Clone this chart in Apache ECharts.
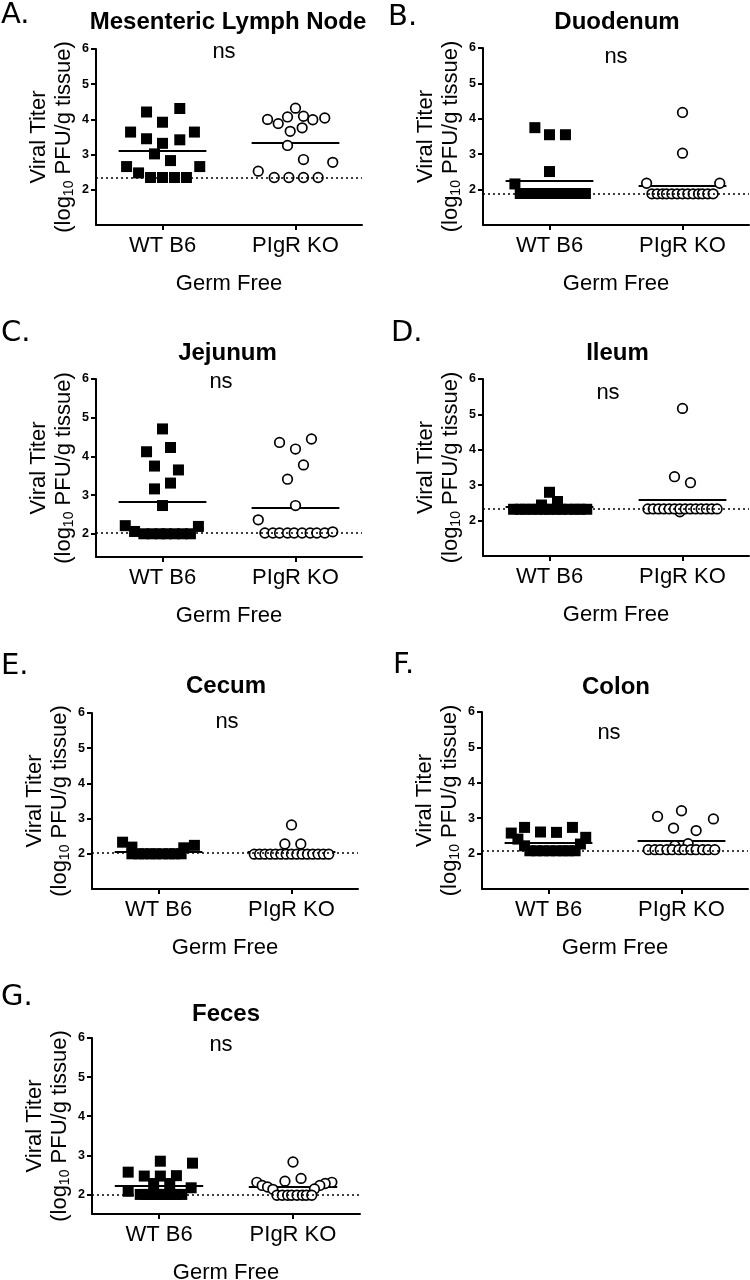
<!DOCTYPE html>
<html>
<head>
<meta charset="utf-8">
<script src="https://cdn.jsdelivr.net/npm/echarts@6/dist/echarts.min.js"></script>
<style>
html,body{margin:0;padding:0;background:#fff;}
#chart{width:750px;height:1280px;}
</style>
</head>
<body>
<div id="chart"></div>
<script>
// ---------------- data ----------------
const groups = ['WT B6', 'PIgR KO'];
const panelTitles = ['Mesenteric Lymph Node', 'Duodenum', 'Jejunum', 'Ileum', 'Cecum', 'Colon', 'Feces'];
const panelLetters = ['A.', 'B.', 'C.', 'D.', 'E.', 'F.', 'G.'];
const significance = ['ns', 'ns', 'ns', 'ns', 'ns', 'ns', 'ns'];
const yTicks = [2, 3, 4, 5, 6];
const yMins = [1, 1, 1.4, 1, 1, 1, 1.5];
const yMax = 6;
const detectionLimits = [2.35, 1.89, 2.02, 2.33, 2.02, 2.09, 2.0];
const meansWT = [3.11, 2.26, 2.82, 2.38, 2.07, 2.32, 2.21];
const meansKO = [3.33, 2.11, 2.66, 2.59, 2.06, 2.37, 2.19];

// points: [offset within group (in category widths), log10 PFU/g]
const mlnWT = [[-0.12,4.21],[0.13,4.31],[-0.24,3.64],[0,3.92],[0.24,3.64],[-0.12,3.45],[0,3.32],[0.13,3.42],[-0.06,3.02],[0.06,2.83],[-0.27,2.66],[0.28,2.66],[-0.18,2.48],[-0.09,2.35],[0,2.35],[0.09,2.35],[0.18,2.35]];
const mlnKO = [[0,4.32],[-0.06,4.07],[0.06,4.09],[-0.21,4.0],[-0.13,3.88],[0.13,3.99],[0.22,4.04],[0.05,3.76],[-0.04,3.66],[-0.06,3.26],[0.06,2.86],[0.28,2.78],[-0.28,2.53],[-0.16,2.35],[-0.05,2.35],[0.06,2.35],[0.17,2.35]];

const duoWT = [[-0.11,3.75],[0,3.55],[0.12,3.55],[0,2.51],[-0.26,2.16],[-0.22,1.89],[-0.17,1.89],[-0.12,1.89],[-0.07,1.89],[-0.02,1.89],[0.03,1.89],[0.08,1.89],[0.13,1.89],[0.17,1.89],[0.22,1.89],[0.27,1.89]];
const duoKO = [[0,4.18],[0,3.03],[-0.27,2.18],[0.28,2.18],[-0.23,1.88],[-0.19,1.88],[-0.15,1.88],[-0.12,1.88],[-0.08,1.88],[-0.04,1.88],[0,1.88],[0.04,1.88],[0.08,1.88],[0.12,1.88],[0.15,1.88],[0.19,1.88],[0.23,1.88]];

const jejWT = [[0,4.71],[-0.12,4.12],[0.06,4.23],[-0.06,3.75],[0.12,3.65],[0.06,3.31],[-0.06,3.16],[0,2.73],[-0.28,2.21],[0.27,2.19],[-0.21,2.06],[-0.14,2.0],[-0.08,2.0],[-0.02,2.0],[0.03,2.0],[0.09,2.0],[0.15,2.0],[0.21,2.0]];
const jejKO = [[-0.12,4.36],[0,4.19],[0.12,4.45],[0.06,3.78],[-0.06,3.41],[0,2.73],[-0.28,2.36],[-0.23,2.02],[-0.17,2.02],[-0.12,2.02],[-0.06,2.02],[-0.01,2.02],[0.05,2.02],[0.11,2.02],[0.16,2.02],[0.22,2.02],[0.28,2.05]];

const ileWT = [[-0.27,2.32],[-0.22,2.32],[-0.18,2.32],[-0.13,2.32],[-0.09,2.32],[-0.04,2.32],[0,2.32],[0.05,2.32],[0.09,2.32],[0.14,2.32],[0.19,2.32],[0.23,2.32],[0.28,2.32],[0,2.80],[0.06,2.54],[-0.06,2.44]];
const ileKO = [[0,5.17],[-0.06,3.24],[0.06,3.07],[-0.02,2.25],[-0.26,2.33],[-0.22,2.33],[-0.18,2.33],[-0.14,2.33],[-0.1,2.33],[-0.06,2.33],[-0.02,2.33],[0.02,2.33],[0.06,2.33],[0.1,2.33],[0.14,2.33],[0.18,2.33],[0.22,2.33],[0.26,2.33]];

const cecWT = [[-0.27,2.33],[-0.2,2.19],[0.19,2.17],[0.27,2.24],[-0.2,2.0],[-0.15,2.0],[-0.11,2.0],[-0.06,2.0],[-0.02,2.0],[0.03,2.0],[0.08,2.0],[0.12,2.0],[0.17,2.0]];
const cecKO = [[0,2.82],[-0.05,2.28],[0.07,2.28],[-0.28,1.99],[-0.24,1.99],[-0.2,1.99],[-0.16,1.99],[-0.12,1.99],[-0.08,1.99],[-0.04,1.99],[0,1.99],[0.04,1.99],[0.08,1.99],[0.12,1.99],[0.16,1.99],[0.2,1.99],[0.24,1.99],[0.28,1.99]];

const colWT = [[-0.28,2.58],[-0.18,2.74],[-0.06,2.61],[0.06,2.60],[0.18,2.74],[0.28,2.46],[-0.23,2.41],[-0.18,2.22],[0.24,2.27],[-0.14,2.08],[-0.09,2.08],[-0.04,2.08],[0.01,2.08],[0.06,2.08],[0.11,2.08],[0.15,2.08],[0.2,2.08]];
const colKO = [[-0.18,3.05],[0,3.21],[0.24,2.98],[-0.06,2.72],[0.11,2.65],[-0.05,2.22],[0.05,2.28],[-0.25,2.11],[-0.2,2.11],[-0.16,2.11],[-0.11,2.11],[-0.07,2.11],[-0.02,2.11],[0.02,2.11],[0.07,2.11],[0.11,2.11],[0.16,2.11],[0.2,2.11],[0.25,2.11]];

const fecWT = [[-0.23,2.57],[-0.11,2.47],[0.01,2.85],[0.01,2.47],[0.13,2.48],[0.25,2.80],[-0.04,2.28],[0.08,2.28],[0.24,2.17],[-0.23,2.08],[-0.14,2.0],[-0.1,2.0],[-0.06,2.0],[-0.02,2.0],[0.01,2.0],[0.05,2.0],[0.09,2.0],[0.13,2.0],[0.17,2.0]];
const fecKO = [[0,2.83],[-0.06,2.34],[0.06,2.41],[-0.27,2.31],[-0.23,2.23],[-0.19,2.19],[-0.15,2.13],[0.29,2.31],[0.24,2.28],[0.2,2.23],[0.16,2.14],[-0.12,1.98],[-0.08,1.98],[-0.04,1.98],[-0.01,1.98],[0.03,1.98],[0.07,1.98],[0.1,1.98],[0.14,1.98]];

const wtSets = [mlnWT, duoWT, jejWT, ileWT, cecWT, colWT, fecWT];
const koSets = [mlnKO, duoKO, jejKO, ileKO, cecKO, colKO, fecKO];

// ---------------- layout / style ----------------
const FONT = 'Liberation Sans, Arial, Helvetica, sans-serif';
const layout = [
  {grid:{left:96, top:49, width:266, height:176},  letter:[1,15],   title:[228,22.5],  ns:[224,52]},
  {grid:{left:483,top:48, width:266, height:177},  letter:[388,17], title:[617,22.5],  ns:[616,57]},
  {grid:{left:96, top:379,width:266, height:178},  letter:[1,333],  title:[227.5,353], ns:[221,382]},
  {grid:{left:483,top:379,width:266, height:177},  letter:[391,333],title:[617.5,353], ns:[608,392.5]},
  {grid:{left:92, top:713,width:266, height:176},  letter:[1,666],  title:[226,686.5], ns:[227,722]},
  {grid:{left:482,top:712,width:266, height:177},  letter:[393,665],title:[616,687],   ns:[609,733]},
  {grid:{left:92, top:1038,width:268,height:176},  letter:[1,997],  title:[226,1014],  ns:[221,1045]}
];
const meanHalfWidth = 0.33;

const grids = [], xAxes = [], yAxes = [], series = [], graphics = [];
layout.forEach((L, i) => {
  grids.push(Object.assign({containLabel:false, outerBoundsMode:'none'}, L.grid));
  xAxes.push({
    gridIndex:i, type:'value', min:-0.5, max:1.5,
    axisLine:{show:true, onZero:false, lineStyle:{color:'#000', width:2}},
    axisTick:{show:true, customValues:[0,1], length:5, inside:false, lineStyle:{color:'#000', width:2}},
    axisLabel:{show:true, customValues:[0,1], formatter:v => groups[Math.round(v)], color:'#000', fontSize:22, fontFamily:FONT, margin:10},
    splitLine:{show:false},
    name:'Germ Free', nameLocation:'middle', nameGap:48,
    nameTextStyle:{color:'#000', fontSize:22, fontFamily:FONT}
  });
  yAxes.push({
    gridIndex:i, type:'value', min:yMins[i], max:yMax,
    axisLine:{show:true, onZero:false, lineStyle:{color:'#000', width:2}},
    axisTick:{show:true, customValues:yTicks, length:5, inside:false, lineStyle:{color:'#000', width:2}},
    axisLabel:{show:true, customValues:yTicks, color:'#000', fontSize:12.5, fontWeight:'bold', fontFamily:FONT, margin:7},
    splitLine:{show:false},
    name:'{a|Viral Titer}\n{a|(log}{s|10}{a| PFU/g tissue)}',
    nameLocation:'middle', nameRotate:90, nameGap:20,
    nameTextStyle:{color:'#000', fontSize:22, fontFamily:FONT, lineHeight:25,
      rich:{
        a:{fontSize:22, lineHeight:25, fontFamily:FONT, color:'#000'},
        s:{fontSize:14, lineHeight:14, verticalAlign:'bottom', fontFamily:FONT, color:'#000'}
      }}
  });
  series.push({
    type:'scatter', xAxisIndex:i, yAxisIndex:i, symbol:'rect', symbolSize:11, silent:true, z:3,
    itemStyle:{color:'#000', opacity:1},
    data: wtSets[i].map(p => [0 + p[0], p[1]]),
    markLine:{
      silent:true, symbol:'none', z:2, animation:false,
      label:{show:false}, emphasis:{disabled:true},
      lineStyle:{color:'#000', width:2, type:'solid', opacity:1},
      data:[
        [{coord:[0 - meanHalfWidth, meansWT[i]]}, {coord:[0 + meanHalfWidth, meansWT[i]]}],
        [{coord:[1 - meanHalfWidth, meansKO[i]]}, {coord:[1 + meanHalfWidth, meansKO[i]]}]
      ]
    }
  });
  series.push({
    type:'scatter', xAxisIndex:i, yAxisIndex:i, symbol:'circle', symbolSize:9.6, silent:true, z:4,
    itemStyle:{color:'#fff', borderColor:'#000', borderWidth:1.7, opacity:1},
    data: koSets[i].map(p => [1 + p[0], p[1]]),
    markLine:{
      silent:true, symbol:'none', z:6, animation:false,
      label:{show:false}, emphasis:{disabled:true},
      lineStyle:{color:'#000', width:1.5, type:[2,3], opacity:1},
      data:[{yAxis: detectionLimits[i]}]
    }
  });
  graphics.push({type:'text', x:L.letter[0], y:L.letter[1], silent:true,
    style:{text:panelLetters[i], fill:'#000', font:'29px "DejaVu Sans", sans-serif', align:'left', verticalAlign:'middle'}});
  graphics.push({type:'text', x:L.title[0], y:L.title[1], silent:true,
    style:{text:panelTitles[i], fill:'#000', font:'bold 24px ' + FONT, align:'center', verticalAlign:'middle'}});
  graphics.push({type:'text', x:L.ns[0], y:L.ns[1], silent:true,
    style:{text:significance[i], fill:'#000', font:'22px ' + FONT, align:'center', verticalAlign:'middle'}});
});

const chart = echarts.init(document.getElementById('chart'), null, {renderer:'canvas'});
chart.setOption({
  backgroundColor:'#fff',
  animation:false,
  grid:grids, xAxis:xAxes, yAxis:yAxes, series:series, graphic:graphics
});
</script>
</body>
</html>
